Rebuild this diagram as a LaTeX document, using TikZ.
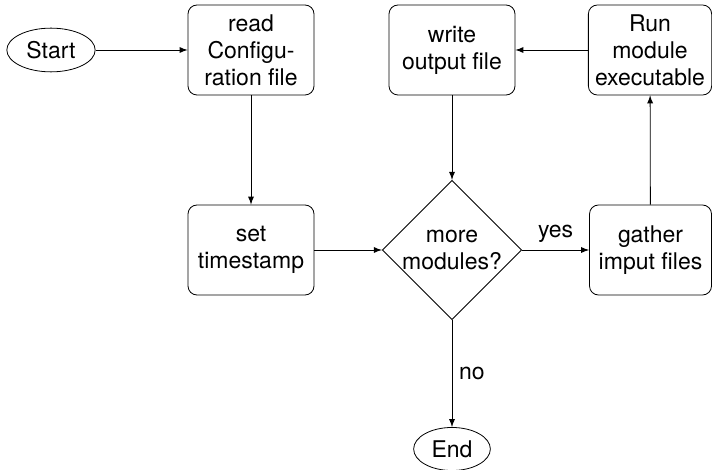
\documentclass[tikz,border=0pt]{standalone}
\usepackage{fontspec}
\setmainfont{TeX Gyre Heros}
\usepackage{tikz}
\usetikzlibrary{shapes.geometric,arrows}

\begin{document}
\begin{tikzpicture}[x=0.5pt, y=-0.5pt, >=latex,
        every node/.style={font=\fontsize{11.5}{13.5}\selectfont},
        box/.style={draw, rounded corners=4.5pt, align=center, minimum width=63pt, minimum height=45pt},
        term/.style={draw, ellipse},
        decision/.style={draw, diamond, aspect=1, align=center, minimum width=69.5pt, minimum height=69.5pt, inner sep=0pt}]
    \useasboundingbox (0,0) rectangle (712,470);
    % terminals
    \node[term] (start) at (51,50) {Start};
    \node[term] (end) at (452,449) {End};
    % process boxes
    \node[box] (read) at (251,50) {read\\Configu-\\ration file};
    \node[box] (write) at (452,50) {write\\output file};
    \node[box, minimum width=60pt] (run) at (650,50) {Run\\module\\executable};
    \node[box] (stamp) at (251,250) {set\\timestamp};
    \node[box, minimum width=61pt] (gather) at (650.5,250) {gather\\imput files};
    \node[decision] (more) at (452,250) {more\\modules?};
    % flow
    \draw[->] (start) -- (read);
    \draw[->] (read) -- (stamp);
    \draw[->] (stamp) -- (more);
    \draw[->] (more) -- node[above] {yes} (gather);
    \draw[->] (gather) -- (run);
    \draw[->] (run) -- (write);
    \draw[->] (write) -- (more);
    \draw[->] (more) -- node[right] {no} (end);
\end{tikzpicture}
\end{document}
